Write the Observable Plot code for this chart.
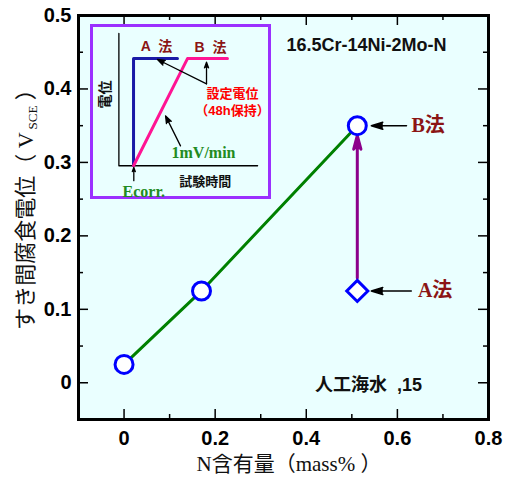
<!DOCTYPE html>
<html><head><meta charset="utf-8">
<script src="https://cdn.jsdelivr.net/npm/d3@7"></script>
<script src="https://cdn.jsdelivr.net/npm/@observablehq/plot@0.6"></script>
<style>
html,body{margin:0;padding:0;background:#fff;}
#chart{position:relative;width:506px;height:477px;}
#chart svg{position:absolute;left:0;top:0;}
</style></head><body><div id="chart"></div>
<script>
// ---- data ----
const nContentB = [0, 0.17, 0.512];          // N content, mass%  (B method)
const potentialB = [0.025, 0.125, 0.35];     // crevice corrosion potential, V SCE
const nContentA = [0.512];                   // A method
const potentialA = [0.125];
const xTicksMajor = [0, 0.2, 0.4, 0.6, 0.8];
const xTicksMinor = [0.1, 0.3, 0.5, 0.7];
const yTicksMajor = [0, 0.1, 0.2, 0.3, 0.4, 0.5];
const yTicksMinor = [0.05, 0.15, 0.25, 0.35, 0.45];

// inset schematic (time vs potential, arbitrary units)
const insetAxisT = [0, 0, 10.13];
const insetAxisE = [10, 0, 0];
const curveA_t = [1.07, 1.07, 4.28];
const curveA_e = [0, 8.1, 8.1];
const curveB_t = [1.07, 5.01, 7.93];
const curveB_e = [0, 8.1, 8.1];

const SANS = "'Liberation Sans', Arial, 'Noto Sans CJK JP', sans-serif";
const SERIF = "'Liberation Serif', 'Times New Roman', 'Noto Sans CJK JP', serif";
const BG = "#eaffff";
const DARKRED = "#8b1515";

const ptsB = nContentB.map((x, i) => ({x, y: potentialB[i]}));
const ptsA = nContentA.map((x, i) => ({x, y: potentialA[i]}));
const arrowPurple = [{x1: nContentA[0], y1: potentialA[0], x2: nContentB[2], y2: potentialB[2]}];
const labelArrows = [
  {x1: 0.62, y1: potentialB[2], x2: nContentB[2], y2: potentialB[2]},
  {x1: 0.6305, y1: potentialA[0], x2: nContentA[0], y2: potentialA[0]}
];
const methodLabels = [
  {x: 0.631, y: potentialB[2], text: "B法"},
  {x: 0.645, y: potentialA[0], text: "A法"}
];

const W = 506, H = 477, ML = 78, MR = 18, MT = 15, MB = 58;
const PW = W - ML - MR, PH = H - MT - MB;
const MAJ = 10, MIN = 5;

const main = Plot.plot({
  width: W, height: H,
  marginLeft: ML, marginRight: MR, marginTop: MT, marginBottom: MB,
  x: {domain: [-0.1, 0.8]},
  y: {domain: [-0.05, 0.5]},
  style: {background: "transparent", fontFamily: SANS, color: "black"},
  marks: [
    Plot.frame({fill: BG, stroke: "none"}),
    // inward ticks on all four sides
    Plot.tickX(xTicksMajor, {x: d => d, insetTop: PH - MAJ, stroke: "black", strokeWidth: 1.5}),
    Plot.tickX(xTicksMajor, {x: d => d, insetBottom: PH - MAJ, stroke: "black", strokeWidth: 1.5}),
    Plot.tickX(xTicksMinor, {x: d => d, insetTop: PH - MIN, stroke: "black", strokeWidth: 1.5}),
    Plot.tickX(xTicksMinor, {x: d => d, insetBottom: PH - MIN, stroke: "black", strokeWidth: 1.5}),
    Plot.tickY(yTicksMajor, {y: d => d, insetRight: PW - MAJ, stroke: "black", strokeWidth: 1.5}),
    Plot.tickY(yTicksMajor, {y: d => d, insetLeft: PW - MAJ, stroke: "black", strokeWidth: 1.5}),
    Plot.tickY(yTicksMinor, {y: d => d, insetRight: PW - MIN, stroke: "black", strokeWidth: 1.5}),
    Plot.tickY(yTicksMinor, {y: d => d, insetLeft: PW - MIN, stroke: "black", strokeWidth: 1.5}),
    Plot.axisX({ticks: xTicksMajor, tickSize: 0, tickPadding: 11, tickFormat: d => String(d),
      fontSize: 20, fontWeight: "bold", label: null}),
    Plot.axisY({ticks: yTicksMajor, tickSize: 0, tickPadding: 7, tickFormat: d => String(d),
      fontSize: 20, fontWeight: "bold", label: null}),
    Plot.frame({stroke: "black", strokeWidth: 3}),
    // data
    Plot.line(ptsB, {x: "x", y: "y", stroke: "#008000", strokeWidth: 3}),
    Plot.arrow(arrowPurple, {x1: "x1", y1: "y1", x2: "x2", y2: "y2", stroke: "#8b008b", fill: "#8b008b",
      strokeWidth: 3, headLength: 7, headAngle: 30, insetStart: 13, insetEnd: 10}),
    Plot.arrow(labelArrows, {x1: "x1", y1: "y1", x2: "x2", y2: "y2", stroke: "black", fill: "black",
      strokeWidth: 1.5, headLength: 12, headAngle: 34, insetEnd: 14}),
    Plot.dot(ptsB, {x: "x", y: "y", r: 9, stroke: "#0000ff", strokeWidth: 3, fill: "white"}),
    Plot.dot(ptsA, {x: "x", y: "y", r: 9.5, symbol: "diamond2", stroke: "#0000ff", strokeWidth: 3, fill: "white"}),
    Plot.text(methodLabels, {x: "x", y: "y", text: "text", textAnchor: "start", fontFamily: SERIF,
      fontWeight: "bold", fontSize: 20, fill: DARKRED}),
    Plot.text(["16.5Cr-14Ni-2Mo-N"], {x: 0.532, y: 0.459, text: d => d, fontSize: 18, fontWeight: "bold", fill: "#111"}),
    Plot.text(["人工海水  ,15"], {x: 0.419, y: -0.003, text: d => d, textAnchor: "start", fontSize: 18, fontWeight: "bold", fill: "#111"})
  ]
});

const ms = d3.select(main);
ms.append("text")
  .attr("x", 289).attr("y", 471)
  .attr("text-anchor", "middle")
  .attr("font-family", SERIF).attr("font-size", 21).attr("fill", "#111")
  .text("N含有量（mass% ）");
const yt = ms.append("text")
  .attr("transform", "translate(25,204) rotate(-90)")
  .attr("text-anchor", "middle").attr("dy", "0.35em")
  .attr("font-family", SERIF).attr("font-size", 22).attr("fill", "#111");
yt.append("tspan").text("すき間腐食電位（ V");
yt.append("tspan").attr("font-size", 13).attr("dy", 4).attr("dx", 3).text("SCE");
yt.append("tspan").attr("dy", -4).text(" ）");

// ---- inset schematic ----
const insetArrows = [
  {x1: 6.4, y1: 6.19, x2: 2.82, y2: 8.03, h: 9},
  {x1: 6.4, y1: 6.19, x2: 6.4, y2: 7.83, h: 7},
  {x1: 4.5, y1: 1.5, x2: 3.41, y2: 3.77, h: 9},
  {x1: 1.09, y1: -1.13, x2: 1.09, y2: -0.13, h: 7}
];
const insetTexts = [
  {x: 2.75, y: 9.01, text: "A  法", fill: DARKRED, font: SANS, size: 14},
  {x: 6.69, y: 8.94, text: "B  法", fill: DARKRED, font: SANS, size: 14},
  {x: 8.3, y: 5.46, text: "設定電位", fill: "#ff0000", font: SANS, size: 13},
  {x: 8.3, y: 4.18, text: "（48h保持）", fill: "#ff0000", font: SANS, size: 13},
  {x: 6.18, y: 1.0, text: "1mV/min", fill: "#228b22", font: SERIF, size: 16},
  {x: 1.82, y: -2.0, text: "Ecorr.", fill: "#228b22", font: SERIF, size: 16},
  {x: 6.3, y: -1.24, text: "試験時間", fill: "#111", font: SANS, size: 13}
];
const insetMarks = [
  Plot.frame({fill: BG, stroke: "#9b30ff", strokeWidth: 3}),
  Plot.line(insetAxisT.map((t, i) => [t, insetAxisE[i]]), {stroke: "black", strokeWidth: 1.3}),
  Plot.line(curveA_t.map((t, i) => [t, curveA_e[i]]), {stroke: "#1a1aa6", strokeWidth: 3}),
  Plot.line(curveB_t.map((t, i) => [t, curveB_e[i]]), {stroke: "#ff1493", strokeWidth: 3}),
  Plot.text(["電位"], {x: -1.0, y: 5.39, text: d => d, rotate: -90, fontSize: 14, fontWeight: "bold", fill: "#111"})
];
for (const a of insetArrows) {
  insetMarks.push(Plot.arrow([a], {x1: "x1", y1: "y1", x2: "x2", y2: "y2", stroke: "black", fill: "black",
    strokeWidth: 1.3, headLength: a.h, headAngle: 40}));
}
for (const t of insetTexts) {
  insetMarks.push(Plot.text([t], {x: "x", y: "y", text: "text", fill: t.fill, fontFamily: t.font,
    fontSize: t.size, fontWeight: "bold"}));
}
const inset = Plot.plot({
  width: 184, height: 178, margin: 3,
  x: {domain: [-2, 11], axis: null},
  y: {domain: [-2.4, 10.6], axis: null},
  style: {background: "transparent", fontFamily: SANS, overflow: "visible"},
  marks: insetMarks
});
inset.style.left = "88px";
inset.style.top = "22px";

const chart = document.getElementById("chart");
chart.appendChild(main);
chart.appendChild(inset);
</script></body></html>
